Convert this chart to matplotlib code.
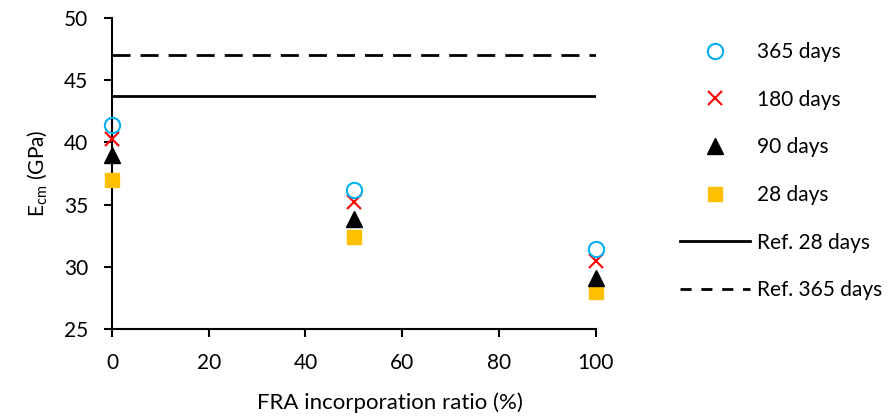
import matplotlib.pyplot as plt
from matplotlib.lines import Line2D

# data
fra = [0, 50, 100]
e365 = [41.4, 36.2, 31.4]
e180 = [40.25, 35.2, 30.45]
e90 = [39.0, 33.85, 29.1]
e28 = [37.0, 32.4, 28.0]
ref28 = 43.75
ref365 = 47.0

plt.rcParams['font.family'] = ['Lato', 'DejaVu Sans']
fs = 15
dash = (6.5, 3.6)

fig = plt.figure(figsize=(8.89, 4.19), dpi=100)
ax = fig.add_axes([0.126, 0.215, 0.544, 0.742])

ax.plot(fra, e28, 's', color='#FFC000', markersize=10.5, label='28 days', zorder=3, clip_on=False)
ax.plot(fra, e90, '^', color='black', markersize=11, label='90 days', zorder=4, clip_on=False)
ax.plot(fra, e180, 'x', color='red', markersize=10, markeredgewidth=1.5, label='180 days',
        zorder=5, clip_on=False)
ax.plot(fra, e365, 'o', markerfacecolor='none', markeredgecolor='#00B0F0', markersize=11,
        markeredgewidth=1.5, label='365 days', zorder=6, clip_on=False)
ax.plot([fra[0], fra[-1]], [ref28, ref28], '-', color='black', lw=2, label='Ref. 28 days')
ax.plot([fra[0], fra[-1]], [ref365, ref365], '--', color='black', lw=2, dashes=dash,
        label='Ref. 365 days')

ax.set_xlim(0, 100)
ax.set_ylim(25, 50)
ax.set_xticks([0, 20, 40, 60, 80, 100])
ax.set_yticks([25, 30, 35, 40, 45, 50])
ax.spines['top'].set_visible(False)
ax.spines['right'].set_visible(False)
for s in ['left', 'bottom']:
    ax.spines[s].set_linewidth(1.5)
ax.tick_params(direction='out', length=6, width=1.5, labelsize=fs)
ax.tick_params(axis='y', pad=11)
ax.tick_params(axis='x', pad=11)

ax.set_xlabel('FRA incorporation ratio (%)', fontsize=16)
ax.xaxis.set_label_coords(0.574, -0.205)
ax.set_ylabel('E$_{\\mathregular{cm}}$ (GPa)', fontsize=fs, labelpad=10)

handles = [
    Line2D([], [], marker='o', ls='none', markerfacecolor='none', markeredgecolor='#00B0F0',
           markersize=11, markeredgewidth=1.5),
    Line2D([], [], marker='x', ls='none', color='red', markersize=10, markeredgewidth=1.5),
    Line2D([], [], marker='^', ls='none', color='black', markersize=11),
    Line2D([], [], marker='s', ls='none', color='#FFC000', markersize=10.5),
    Line2D([], [], ls='-', color='black', lw=2),
    Line2D([], [], ls='--', color='black', lw=2, dashes=(4, 3.5)),
]
labels = ['365 days', '180 days', '90 days', '28 days', 'Ref. 28 days', 'Ref. 365 days']
fig.legend(handles, labels, loc='upper left', bbox_to_anchor=(0.756, 0.92), frameon=False,
           handlelength=3.36, handletextpad=0.33, labelspacing=1.33, fontsize=fs,
           borderaxespad=0)

fig.savefig('out.png', dpi=100)
